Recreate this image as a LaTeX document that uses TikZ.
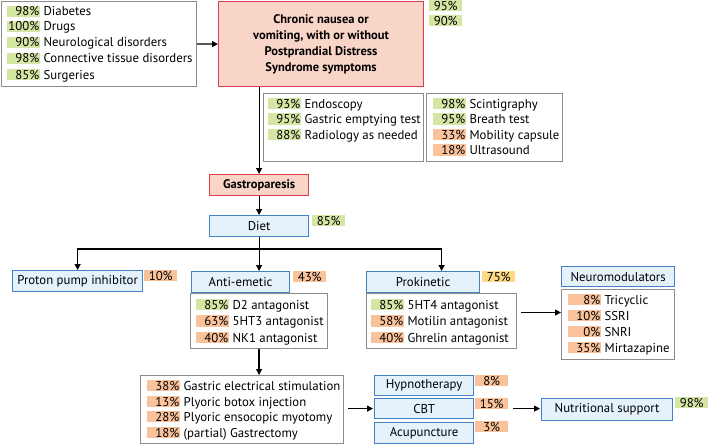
\documentclass[tikz,border=0pt]{standalone}
\usepackage{fontspec}
\setmainfont{PT Sans}
\usetikzlibrary{arrows.meta, positioning}

\definecolor{pctgreen}{HTML}{D5E6A4}
\definecolor{pctorange}{HTML}{F9C29A}
\definecolor{pctyellow}{HTML}{FCD983}
\definecolor{boxgray}{HTML}{8C8C8C}
\definecolor{bluefill}{HTML}{E5F2FC}
\definecolor{blueline}{HTML}{4381C4}
\definecolor{redfill}{HTML}{F9D5C8}
\definecolor{redline}{HTML}{E03C4C}

% coloured percentage tag
\newcommand{\pcttag}[3][r]{{\setlength{\fboxsep}{1pt}\colorbox{#2}{\makebox[31pt][#1]{\rule{0pt}{9pt}#3\%}}}}

\begin{document}
\begin{tikzpicture}[x=1pt, y=-1pt, font=\fontsize{12.8}{15}\selectfont,
  box/.style={draw=boxgray, line width=1.1pt, anchor=north west, inner sep=0pt},
  bluebox/.style={draw=blueline, fill=bluefill, line width=1.2pt, anchor=north west, inner sep=0pt, align=center},
  redbox/.style={draw=redline, fill=redfill, line width=1.2pt, anchor=north west, inner sep=0pt, align=center, font=\fontsize{12.5}{16}\selectfont\bfseries},
  row/.style={anchor=base west, inner sep=0pt},
  tag/.style={anchor=north west, inner sep=0pt},
  conn/.style={line width=1.2pt, -{Triangle[length=6pt, width=6pt]}},
  link/.style={line width=1.2pt}
]
\useasboundingbox (0,0) rectangle (709,444);

% Risk factors
\node[box, minimum width=195pt, minimum height=85pt] (risks) at (1,1) {};
\node[row] (risk1) at (7,16) {\pcttag{pctgreen}{98} Diabetes};
\node[row] (risk2) at (7,31) {\pcttag{pctgreen}{100} Drugs};
\node[row] (risk3) at (7,47) {\pcttag{pctgreen}{90} Neurological disorders};
\node[row] (risk4) at (7,63) {\pcttag{pctgreen}{98} Connective tissue disorders};
\node[row] (risk5) at (7,79) {\pcttag{pctgreen}{85} Surgeries};

% Symptoms
\node[redbox, minimum width=205pt, minimum height=85pt] (symptom) at (218,1)
  {Chronic nausea or\\vomiting, with or without\\Postprandial Distress\\Syndrome symptoms};
\node[tag] (sym95) at (429,0) {\pcttag[c]{pctgreen}{95}};
\node[tag] (sym90) at (429,15) {\pcttag[c]{pctgreen}{90}};
\draw[conn] (risks.east) -- (symptom.west);

% Diagnostic tests
\node[box, minimum width=160pt, minimum height=68pt] (tests) at (263,93) {};
\node[row] (test1) at (268,108) {\pcttag{pctgreen}{93} Endoscopy};
\node[row] (test2) at (268,123.5) {\pcttag{pctgreen}{95} Gastric emptying test};
\node[row] (test3) at (268,139) {\pcttag{pctgreen}{88} Radiology as needed};

\node[box, minimum width=136pt, minimum height=68pt] (emptying) at (426,93) {};
\node[row] (empt1) at (433,108) {\pcttag{pctgreen}{98} Scintigraphy};
\node[row] (empt2) at (433,123.5) {\pcttag{pctgreen}{95} Breath test};
\node[row] (empt3) at (433,139) {\pcttag{pctorange}{33} Mobility capsule};
\node[row] (empt4) at (433,154.5) {\pcttag{pctorange}{18} Ultrasound};

% Diagnosis and diet
\node[redbox, minimum width=99pt, minimum height=21pt] (gastro) at (209,174) {Gastroparesis};
\draw[conn] (symptom.south -| gastro.north) -- (gastro.north);

\node[bluebox, minimum width=99pt, minimum height=21pt] (diet) at (209,215) {Diet};
\node[tag] (diet85) at (312,215) {\pcttag[c]{pctgreen}{85}};
\draw[conn] (gastro.south) -- (diet.north);

% Drug therapy
\node[bluebox, minimum width=130pt, minimum height=21pt] (proton) at (12,270) {Proton pump inhibitor};
\node[tag] (proton10) at (144,270) {\pcttag[c]{pctorange}{10}};

\node[bluebox, minimum width=98pt, minimum height=21pt] (antiemetic) at (191,271) {Anti-emetic};
\node[tag] (anti43) at (293,271) {\pcttag[c]{pctorange}{43}};

\node[bluebox, minimum width=113pt, minimum height=21pt] (prokin) at (366,271) {Prokinetic};
\node[tag] (prokin75) at (482,271) {\pcttag[c]{pctyellow}{75}};

\coordinate (fork) at (259,249);
\draw[conn] (diet.south) -- (diet.south |- antiemetic.north);
\draw[conn] (fork) -| (proton.north);
\draw[conn] (fork) -| ([xshift=18.5pt]prokin.north);

\node[box, minimum width=137pt, minimum height=55pt] (antilist) at (190,293) {};
\node[row] (anti1) at (196,309) {\pcttag{pctgreen}{85} D2 antagonist};
\node[row] (anti2) at (196,325.5) {\pcttag{pctorange}{63} 5HT3 antagonist};
\node[row] (anti3) at (196,342) {\pcttag{pctorange}{40} NK1 antagonist};

\node[box, minimum width=150pt, minimum height=55pt] (prolist) at (366,293) {};
\node[row] (pro1) at (371,309) {\pcttag{pctgreen}{85} 5HT4 antagonist};
\node[row] (pro2) at (371,325.5) {\pcttag{pctorange}{58} Motilin antagonist};
\node[row] (pro3) at (371,342) {\pcttag{pctorange}{40} Ghrelin antagonist};

% Neuromodulators
\node[bluebox, minimum width=113pt, minimum height=20pt] (neuro) at (561,266) {Neuromodulators};
\node[box, minimum width=113pt, minimum height=70pt] (neurolist) at (561,289) {};
\node[row] (neuro1) at (568,304) {\pcttag{pctorange}{8} Tricyclic};
\node[row] (neuro2) at (568,320) {\pcttag{pctorange}{10} SSRI};
\node[row] (neuro3) at (568,336) {\pcttag{pctorange}{0} SNRI};
\node[row] (neuro4) at (568,352) {\pcttag{pctorange}{35} Mirtazapine};
\coordinate (proout) at ([xshift=4pt, yshift=8.5pt]prolist.east);
\draw[conn] (proout) -- (proout -| neurolist.west);

% Interventions
\node[box, minimum width=203pt, minimum height=68pt] (invasive) at (140,375) {};
\node[row] (inv1) at (147,390) {\pcttag{pctorange}{38} Gastric electrical stimulation};
\node[row] (inv2) at (147,406) {\pcttag{pctorange}{13} Plyoric botox injection};
\node[row] (inv3) at (147,421) {\pcttag{pctorange}{28} Plyoric ensocopic myotomy};
\node[row] (inv4) at (147,437) {\pcttag{pctorange}{18} (partial) Gastrectomy};
\draw[conn] (antilist.south) -- (antilist.south |- invasive.north);

% Psychological therapy
\node[bluebox, minimum width=99pt, minimum height=20pt] (hypno) at (374,375) {Hypnotherapy};
\node[bluebox, minimum width=99pt, minimum height=20pt] (cbt) at (374,398) {CBT};
\node[bluebox, minimum width=99pt, minimum height=21pt] (acu) at (374,422) {Acupuncture};
\node[tag] (hypno8) at (475,375) {\pcttag[c]{pctorange}{8}};
\node[tag] (cbt15) at (475,398) {\pcttag[c]{pctorange}{15}};
\node[tag] (acu3) at (475,421) {\pcttag[c]{pctorange}{3}};
\draw[conn] ([xshift=4pt]invasive.east |- cbt.west) -- ([xshift=-1pt]cbt.west);

% Nutrition
\node[bluebox, minimum width=131pt, minimum height=22pt] (nutri) at (541,398) {Nutritional support};
\node[tag] (nutri98) at (675,397) {\pcttag[c]{pctgreen}{98}};
\draw[conn] ([xshift=5pt]cbt15.east |- cbt.east) -- ([xshift=-1pt]nutri.west |- cbt.east);

\end{tikzpicture}
\end{document}
